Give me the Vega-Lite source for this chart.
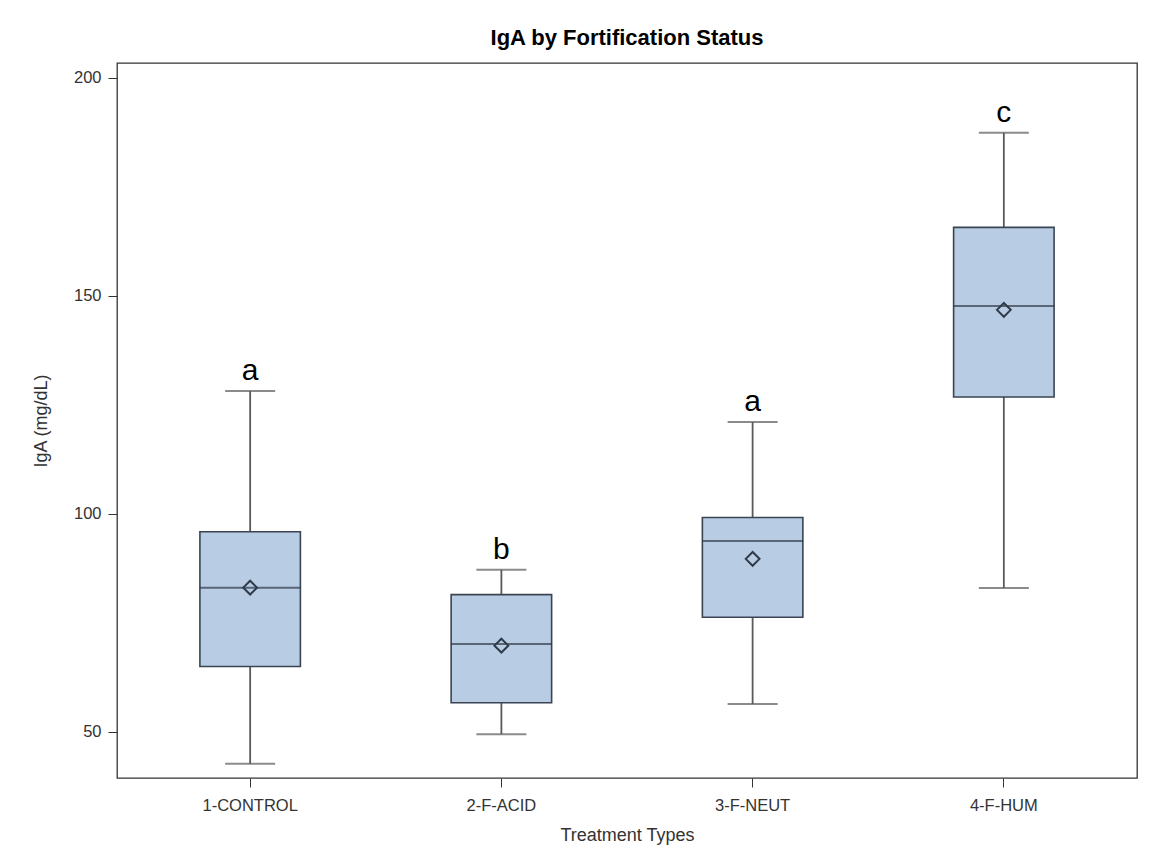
{
  "$schema": "https://vega.github.io/schema/vega-lite/v6.json",
  "width": 1020,
  "height": 715,
  "autosize": {"type": "none"},
  "padding": {"left": 117, "top": 63, "right": 18, "bottom": 88},
  "background": "white",
  "title": {
    "text": "IgA by Fortification Status",
    "font": "Liberation Sans",
    "fontSize": 22,
    "fontWeight": "bold",
    "color": "black",
    "anchor": "middle",
    "offset": 13
  },
  "config": {
    "view": {"stroke": "#333333", "strokeWidth": 1.3},
    "axis": {
      "labelFont": "Liberation Sans",
      "titleFont": "Liberation Sans",
      "labelFontSize": 16.5,
      "titleFontSize": 18,
      "titleFontWeight": "normal",
      "labelColor": "#333333",
      "titleColor": "#333333",
      "tickColor": "#333333",
      "tickSize": 9,
      "grid": false,
      "domain": false
    }
  },
  "data": {
    "values": [
      {"group": "1-CONTROL", "lower": 42.7, "q1": 65.0, "median": 83.1, "q3": 95.9, "upper": 128.2, "mean": 83.1, "letter": "a"},
      {"group": "2-F-ACID", "lower": 49.5, "q1": 56.7, "median": 70.2, "q3": 81.5, "upper": 87.2, "mean": 69.8, "letter": "b"},
      {"group": "3-F-NEUT", "lower": 56.4, "q1": 76.3, "median": 93.8, "q3": 99.2, "upper": 121.1, "mean": 89.7, "letter": "a"},
      {"group": "4-F-HUM", "lower": 83.0, "q1": 126.8, "median": 147.7, "q3": 165.7, "upper": 187.4, "mean": 146.8, "letter": "c"}
    ]
  },
  "encoding": {
    "x": {
      "field": "group",
      "type": "nominal",
      "sort": null,
      "scale": {"paddingInner": 0, "paddingOuter": 0.03},
      "axis": {"title": "Treatment Types", "labelAngle": 0, "labelPadding": 10, "titlePadding": 13}
    }
  },
  "layer": [
    {
      "mark": {"type": "rule", "color": "#5a5a5a", "strokeWidth": 1.8},
      "encoding": {
        "y": {
          "field": "lower",
          "type": "quantitative",
          "scale": {"domain": [39.45, 203.4], "nice": false, "zero": false},
          "axis": {"title": "IgA (mg/dL)", "values": [50, 100, 150, 200], "labelPadding": 7, "titlePadding": 23}
        },
        "y2": {"field": "upper"}
      }
    },
    {
      "mark": {"type": "tick", "color": "#5a5a5a", "size": 50, "thickness": 2},
      "encoding": {"y": {"field": "upper", "type": "quantitative"}}
    },
    {
      "mark": {"type": "tick", "color": "#5a5a5a", "size": 50, "thickness": 2},
      "encoding": {"y": {"field": "lower", "type": "quantitative"}}
    },
    {
      "mark": {"type": "bar", "width": {"band": 0.4}, "fill": "#b8cce4", "stroke": "#3a4452", "strokeWidth": 1.6},
      "encoding": {"y": {"field": "q1", "type": "quantitative"}, "y2": {"field": "q3"}}
    },
    {
      "mark": {"type": "tick", "color": "#2f3a48", "size": 101, "thickness": 2},
      "encoding": {"y": {"field": "median", "type": "quantitative"}}
    },
    {
      "mark": {"type": "point", "shape": "diamond", "filled": false, "size": 190, "stroke": "#2f3a48", "strokeWidth": 2, "opacity": 1},
      "encoding": {"y": {"field": "mean", "type": "quantitative"}}
    },
    {
      "mark": {"type": "text", "font": "Liberation Sans", "fontSize": 30, "color": "black", "baseline": "alphabetic", "dy": -11},
      "encoding": {"y": {"field": "upper", "type": "quantitative"}, "text": {"field": "letter"}}
    }
  ]
}
